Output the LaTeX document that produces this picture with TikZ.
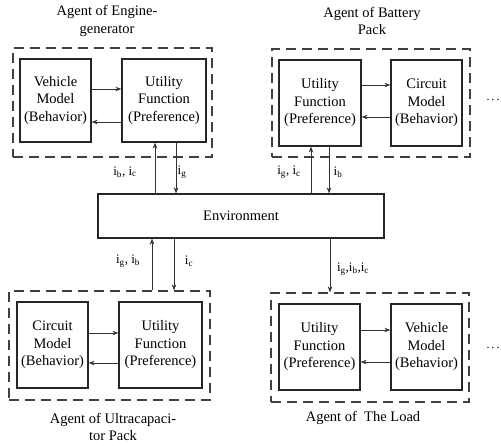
\documentclass[tikz,border=0pt]{standalone}
\usepackage{fontspec}
\setmainfont{Liberation Serif}
\usetikzlibrary{arrows.meta}
\begin{document}
\begin{tikzpicture}[x=1pt,y=-1pt,
  ibox/.style={draw=black!85,line width=1.2pt,align=center,inner sep=0pt,font=\fontsize{14.5}{17.5}\selectfont},
  dbox/.style={draw=black!75,line width=1.2pt,dash pattern=on 10pt off 6pt,inner sep=0pt},
  arr/.style={draw=black!80,line width=0.8pt,-{Stealth[length=6pt,width=4.5pt]}},
  ttl/.style={align=center,font=\fontsize{14.5}{17.5}\selectfont},
  lbl/.style={font=\fontsize{13}{15}\selectfont,inner sep=0pt}]
\useasboundingbox (0,0) rectangle (501,446);
% top-left agent
\node[dbox,minimum width=199,minimum height=109] (dtl) at (112.5,102.5) {};
\node[ibox,minimum width=71,minimum height=83] (vtl) at (55.5,100.5) {Vehicle\\Model\\(Behavior)};
\node[ibox,minimum width=84,minimum height=83] (utl) at (164,100.5) {Utility\\Function\\(Preference)};
\node[ttl] (ttl1) at (107,21) {Agent of Engine-\\generator};
% top-right agent
\node[dbox,minimum width=198,minimum height=108] (dtr) at (371,103) {};
\node[ibox,minimum width=82,minimum height=86] (utr) at (320,103) {Utility\\Function\\(Preference)};
\node[ibox,minimum width=71,minimum height=86] (ctr) at (426.5,103) {Circuit\\Model\\(Behavior)};
\node[ttl] (ttl2) at (372,21) {Agent of Battery\\Pack};
\node[font=\fontsize{12}{14}\selectfont,inner sep=0pt] (dots1) at (493,100) {.\,.\,.};
% environment
\node[draw=black!85,line width=1.2pt,minimum width=286,minimum height=44,inner sep=0pt,font=\fontsize{14.5}{17.5}\selectfont] (env) at (241,216) {Environment};
% bottom-left agent
\node[dbox,minimum width=201,minimum height=109] (dbl) at (109.5,345.5) {};
\node[ibox,minimum width=71,minimum height=86] (cbl) at (52.5,345) {Circuit\\Model\\(Behavior)};
\node[ibox,minimum width=83,minimum height=86] (ubl) at (160.5,345) {Utility\\Function\\(Preference)};
\node[ttl] (ttl3) at (113,427) {Agent of Ultracapaci-\\tor Pack};
% bottom-right agent
\node[dbox,minimum width=198,minimum height=109] (dbr) at (370,347.5) {};
\node[ibox,minimum width=81,minimum height=86] (ubr) at (319.5,347) {Utility\\Function\\(Preference)};
\node[ibox,minimum width=71,minimum height=86] (vbr) at (426.5,347) {Vehicle\\Model\\(Behavior)};
\node[ttl] (ttl4) at (363,418) {Agent of\ \ The Load};
\node[font=\fontsize{12}{14}\selectfont,inner sep=0pt] (dots2) at (493,348) {.\,.\,.};
% inner arrows
\draw[arr] ([yshift=11.5pt]vtl.east) -- ([yshift=11.5pt]vtl.east -| utl.west);
\draw[arr] ([yshift=-21.5pt]utl.west) -- ([yshift=-21.5pt]utl.west -| vtl.east);
\draw[arr] ([yshift=18pt]utr.east) -- ([yshift=18pt]utr.east -| ctr.west);
\draw[arr] ([yshift=-14pt]ctr.west) -- ([yshift=-14pt]ctr.west -| utr.east);
\draw[arr] ([yshift=12pt]cbl.east) -- ([yshift=12pt]cbl.east -| ubl.west);
\draw[arr] ([yshift=-18pt]ubl.west) -- ([yshift=-18pt]ubl.west -| cbl.east);
\draw[arr] ([yshift=17pt]ubr.east) -- ([yshift=17pt]ubr.east -| vbr.west);
\draw[arr] ([yshift=-15pt]vbr.west) -- ([yshift=-15pt]vbr.west -| ubr.east);
% vertical arrows
\draw[arr] ([xshift=-9pt]utl.south |- env.north) -- ([xshift=-9pt]utl.south);
\draw[arr] ([xshift=12pt]utl.south) -- ([xshift=12pt]utl.south |- env.north);
\draw[arr] ([xshift=-9pt]utr.south |- env.north) -- ([xshift=-9pt]utr.south);
\draw[arr] ([xshift=9pt]utr.south) -- ([xshift=9pt]utr.south |- env.north);
\draw[arr] ([xshift=-8.5pt]ubl.north |- dbl.north) -- ([xshift=-8.5pt]ubl.north |- env.south);
\draw[arr] ([xshift=13.5pt]ubl.north |- env.south) -- ([xshift=13.5pt]ubl.north |- dbl.north);
\draw[arr] ([xshift=10.5pt]ubr.north |- env.south) -- ([xshift=10.5pt]ubr.north |- dbr.north);
% labels
\node[lbl] (l1) at (125,172) {i\textsubscript{b}, i\textsubscript{c}};
\node[lbl] (l2) at (182,172) {i\textsubscript{g}};
\node[lbl] (l3) at (289,172) {i\textsubscript{g}, i\textsubscript{c}};
\node[lbl] (l4) at (338,172) {i\textsubscript{b}};
\node[lbl] (l5) at (128,261) {i\textsubscript{g}, i\textsubscript{b}};
\node[lbl] (l6) at (189,261) {i\textsubscript{c}};
\node[lbl] (l7) at (353,269) {i\textsubscript{g},i\textsubscript{b},i\textsubscript{c}};
\end{tikzpicture}
\end{document}
